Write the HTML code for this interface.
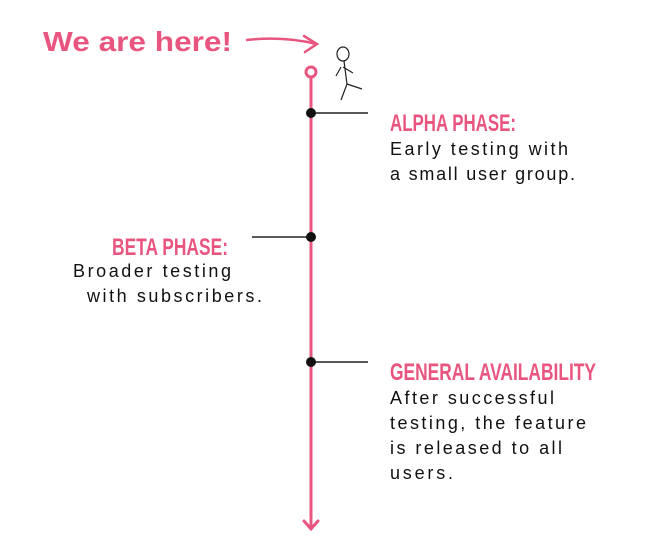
<!DOCTYPE html>
<html><head><meta charset="utf-8"><style>html,body{margin:0;padding:0;background:#fff}</style></head>
<body>
<svg width="647" height="555" xmlns="http://www.w3.org/2000/svg" font-family="Liberation Sans, sans-serif">
<rect width="647" height="555" fill="#fff"/>
<text x="43" y="51" font-size="28" font-weight="bold" fill="#e8557f" textLength="189" lengthAdjust="spacingAndGlyphs">We are here!</text>
<path d="M246 40 Q285 36 316 44" stroke="#e8557f" stroke-width="2.5" fill="none"/>
<path d="M304 36 L317 44 L305 52" stroke="#e8557f" stroke-width="2.5" fill="none" stroke-linecap="round"/>
<g stroke="#222" stroke-width="1.2" fill="none">
<ellipse cx="343" cy="54" rx="6" ry="7"/>
<path d="M344 61 L347 84 M341 67 L336 76 M343 67 L353 73 M347 84 L341 100 M347 84 L362 89"/>
</g>
<line x1="311" y1="78" x2="311" y2="528" stroke="#e8557f" stroke-width="3"/>
<circle cx="311" cy="72" r="5" fill="#fff" stroke="#e8557f" stroke-width="3"/>
<path d="M304 521 L311 529 L318 521" stroke="#e8557f" stroke-width="3" fill="none" stroke-linecap="round"/>
<g stroke="#222" stroke-width="1.5">
<line x1="311" y1="113" x2="368" y2="113"/>
<line x1="252" y1="237" x2="311" y2="237"/>
<line x1="311" y1="362" x2="368" y2="362"/>
</g>
<circle cx="311" cy="113" r="5" fill="#111"/>
<circle cx="311" cy="237" r="5" fill="#111"/>
<circle cx="311" cy="362" r="5" fill="#111"/>
<g font-family="Liberation Sans Narrow, Liberation Sans, sans-serif" font-weight="bold" font-size="24" fill="#e8557f">
<text x="390" y="131" textLength="126" lengthAdjust="spacingAndGlyphs">ALPHA PHASE:</text>
<text x="112" y="255" textLength="116" lengthAdjust="spacingAndGlyphs">BETA PHASE:</text>
<text x="390" y="380" textLength="206" lengthAdjust="spacingAndGlyphs">GENERAL AVAILABILITY</text>
</g>
<g font-size="18" fill="#111">
<text x="390" y="155" textLength="178">Early testing with</text>
<text x="390" y="180" textLength="185">a small user group.</text>
<text x="73" y="277" textLength="158">Broader testing</text>
<text x="87" y="302" textLength="175">with subscribers.</text>
<text x="390" y="404" textLength="164">After successful</text>
<text x="390" y="429" textLength="196">testing, the feature</text>
<text x="390" y="454" textLength="172">is released to all</text>
<text x="390" y="479" textLength="63">users.</text>
</g>
</svg>
</body></html>
